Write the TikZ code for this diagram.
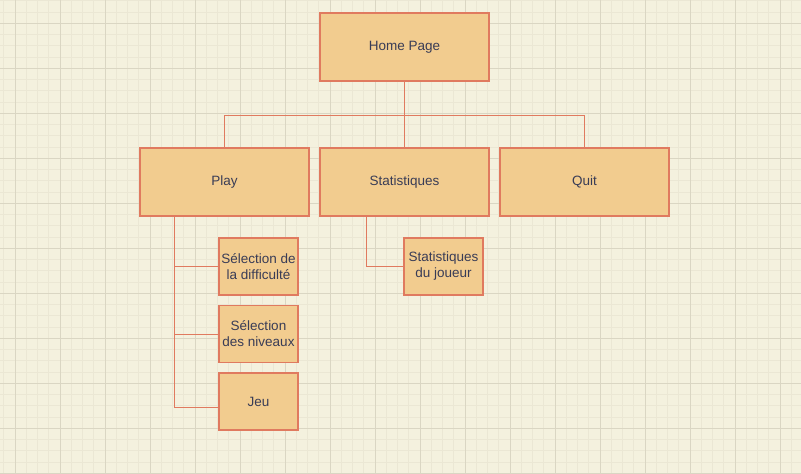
\documentclass[tikz,border=0pt]{standalone}
\usepackage{fontspec}
\setmainfont{Liberation Sans}
\definecolor{bg}{HTML}{F4F1DE}
\definecolor{minorc}{HTML}{EBE7D4}
\definecolor{majorc}{HTML}{DAD6C3}
\definecolor{boxfill}{HTML}{F2CC8F}
\definecolor{boxline}{HTML}{E07A5F}
\definecolor{txt}{HTML}{393C56}
\tikzset{
  box/.style={draw=boxline, fill=boxfill, line width=1.1pt, text=txt, align=center, inner sep=1pt,
    font=\fontsize{13.5}{16}\selectfont},
  bigbox/.style={box, minimum width=169pt, minimum height=68pt},
  smallbox/.style={box, minimum width=79pt, minimum height=57pt},
  conn/.style={draw=boxline, line width=1pt},
  minorl/.style={draw=minorc, line width=0.7pt},
  majorl/.style={draw=majorc, line width=0.7pt}
}
\begin{document}
\begin{tikzpicture}[x=1pt,y=-1pt]
\fill[bg] (0,0) rectangle (801,474);
\useasboundingbox (0,0) rectangle (801,474);
% grid
\foreach \k in {0,...,71} {
  \pgfmathsetmacro\xx{3.75+11.25*\k}
  \draw[minorl] (\xx,0) -- (\xx,474);
}
\foreach \k in {0,...,42} {
  \pgfmathsetmacro\yy{0.8+11.25*\k}
  \draw[minorl] (0,\yy) -- (801,\yy);
}
\foreach \k in {0,...,17} {
  \pgfmathsetmacro\xx{15+45*\k}
  \draw[majorl] (\xx,0) -- (\xx,474);
}
\foreach \k in {0,...,10} {
  \pgfmathsetmacro\yy{23.3+45*\k}
  \draw[majorl] (0,\yy) -- (801,\yy);
}
% coordinates
\coordinate (bl) at (224.5,115);
\coordinate (br) at (584.5,115);
\coordinate (pb) at (174,216);
\coordinate (sb) at (366,216);
\coordinate (jl) at (219,407);
% boxes
\node[bigbox] (home) at (404.5,47) {Home Page};
\node[bigbox] (play) at (224.5,182) {Play};
\node[bigbox] (stat) at (404.5,182) {Statistiques};
\node[bigbox] (quit) at (584.5,182) {Quit};
\node[smallbox] (diff) at (258.5,266.5) {Sélection de\\la difficulté};
\node[smallbox] (niv) at (258.5,334) {Sélection\\des niveaux};
\node[smallbox] (jeu) at (258.5,401.5) {Jeu};
\node[smallbox] (joueur) at (443.5,266.5) {Statistiques\\du joueur};
% connectors
\draw[conn] (home.south) -- (stat.north);
\draw[conn] (play.north) -- (bl) -- (br) -- (quit.north);
\draw[conn] (pb) |- (diff.west);
\draw[conn] (pb) |- (niv.west);
\draw[conn] (pb) |- (jl);
\draw[conn] (sb) |- (joueur.west);
\end{tikzpicture}
\end{document}
